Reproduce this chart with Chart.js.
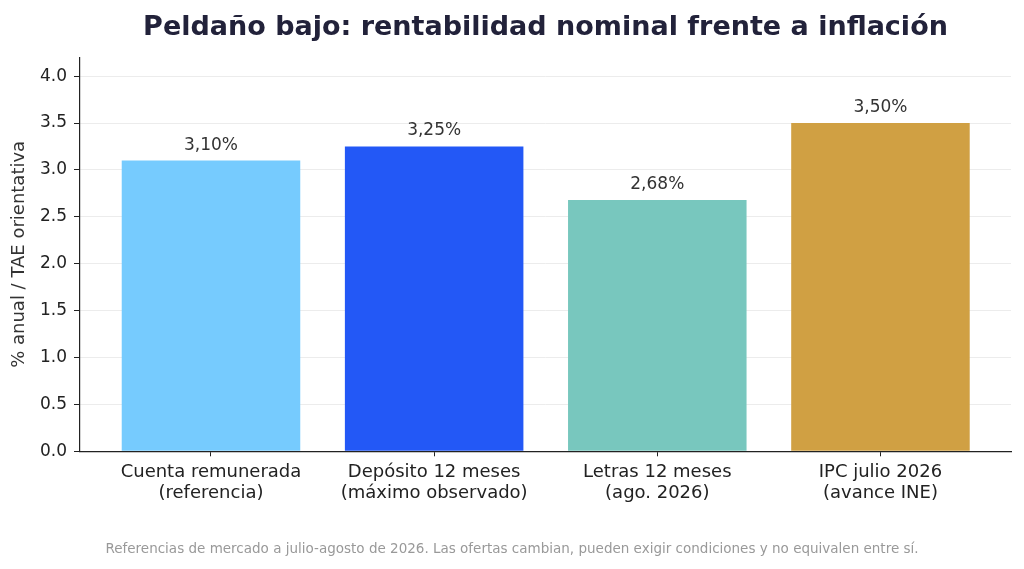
<!DOCTYPE html>
<html>
<head>
<meta charset="utf-8">
<script src="https://cdn.jsdelivr.net/npm/chart.js@4/dist/chart.umd.min.js"></script>
<style>
html,body{margin:0;padding:0;background:#fff;}
#wrap{width:1024px;height:569px;}
</style>
</head>
<body>
<div id="wrap"><canvas id="c" width="1024" height="569"></canvas></div>
<script>
const categories = [
  ["Cuenta remunerada", "(referencia)"],
  ["Depósito 12 meses", "(máximo observado)"],
  ["Letras 12 meses", "(ago. 2026)"],
  ["IPC julio 2026", "(avance INE)"]
];
const values = [3.10, 3.25, 2.68, 3.50];
const valueLabels = ["3,10%", "3,25%", "2,68%", "3,50%"];
const barColors = ["#76CBFE", "#2358F6", "#78C7BE", "#D0A043"];
const yTicks = [0, 0.5, 1.0, 1.5, 2.0, 2.5, 3.0, 3.5, 4.0];

const FONT = "'DejaVu Sans', sans-serif";

const labelPlugin = {
  id: 'valueLabels',
  afterDatasetsDraw(chart) {
    const ctx = chart.ctx;
    const meta = chart.getDatasetMeta(0);
    ctx.save();
    ctx.font = "17px " + FONT;
    ctx.fillStyle = "#333333";
    ctx.textAlign = "center";
    ctx.textBaseline = "alphabetic";
    meta.data.forEach((bar, i) => {
      ctx.fillText(valueLabels[i], bar.x, bar.y - 11);
    });
    ctx.restore();
  }
};

new Chart(document.getElementById('c'), {
  type: 'bar',
  data: {
    datasets: [{
      data: values.map((v, i) => ({x: i, y: v})),
      backgroundColor: barColors,
      borderWidth: 0,
      barPercentage: 0.8,
      categoryPercentage: 1.0
    }]
  },
  options: {
    responsive: false,
    animation: false,
    devicePixelRatio: 1,
    layout: {padding: {left: 0, right: 0, top: 0, bottom: 0}},
    plugins: {
      legend: {display: false},
      tooltip: {enabled: false},
      title: {
        display: true,
        text: "Peldaño bajo: rentabilidad nominal frente a inflación",
        fullSize: false,
        color: "#22223a",
        font: {family: FONT, size: 27, weight: 'bold', lineHeight: 1.2},
        padding: {top: 11.5, bottom: 13.5}
      },
      subtitle: {
        display: true,
        position: 'bottom',
        text: "Referencias de mercado a julio-agosto de 2026. Las ofertas cambian, pueden exigir condiciones y no equivalen entre sí.",
        color: "#999999",
        font: {family: FONT, size: 13.5, lineHeight: 1.2},
        padding: {top: 0, bottom: 11}
      }
    },
    scales: {
      x: {
        type: 'linear',
        offset: false,
        min: -0.587,
        max: 3.585,
        afterBuildTicks(scale) {
          scale.ticks = categories.map((c, i) => ({value: i}));
        },
        afterFit(scale) { scale.height = 90.5; },
        ticks: {
          callback: (v) => categories[v] || '',
          color: "#222222",
          font: {family: FONT, size: 18, lineHeight: 1.17},
          padding: 5,
          maxRotation: 0,
          autoSkip: false
        },
        grid: {
          display: true,
          offset: false,
          drawOnChartArea: false,
          drawTicks: true,
          tickLength: 5,
          tickColor: "#222222",
          tickWidth: 1
        },
        border: {display: true, color: "#222222", width: 1.2}
      },
      y: {
        min: 0,
        max: 4.2,
        afterBuildTicks(scale) {
          scale.ticks = yTicks.map(v => ({value: v}));
        },
        afterFit(scale) { scale.width = 80; },
        ticks: {
          callback: (v) => v.toFixed(1),
          color: "#222222",
          font: {family: FONT, size: 17},
          padding: 7,
          includeBounds: false
        },
        grid: {
          color: "#ececec",
          lineWidth: 1,
          drawTicks: true,
          tickLength: 6,
          tickColor: "#222222"
        },
        border: {display: true, color: "#222222", width: 1.2},
        title: {
          display: true,
          text: "% anual / TAE orientativa",
          color: "#333333",
          font: {family: FONT, size: 18, lineHeight: 1.2},
          padding: {top: 9, bottom: 4}
        }
      },
      yRightSpacer: {
        type: 'linear',
        position: 'right',
        display: true,
        min: 0,
        max: 4.2,
        afterFit(scale) { scale.width = 13; },
        ticks: {display: false},
        grid: {display: false, drawOnChartArea: false, drawTicks: false},
        border: {display: false}
      }
    }
  },
  plugins: [labelPlugin]
});
</script>
</body>
</html>
